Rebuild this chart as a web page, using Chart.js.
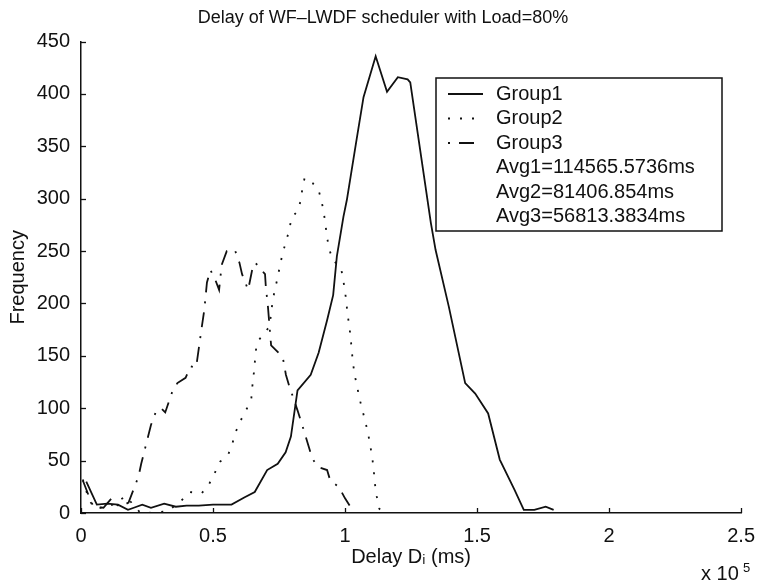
<!DOCTYPE html>
<html>
<head>
<meta charset="utf-8">
<script src="https://cdn.jsdelivr.net/npm/chart.js@4"></script>
<style>
  body { margin: 0; background: #fff; }
  canvas { display: block; }
</style>
</head>
<body>
<canvas id="chart" width="766" height="582"></canvas>
<script>
// delay in ms, frequency counts
const delay1 = [2000, 6000, 10000, 14000, 17800, 20000, 23200, 26500, 31500, 35900,
  40000, 44600, 50000, 57000, 62000, 65800, 70500, 74500, 77500, 79500,
  82000, 87000, 90000, 93200, 95500, 96900, 99400, 100700, 104400, 107000,
  111600, 115900, 120000, 123700, 124700, 132500, 134300, 139300, 145500, 149300,
  154200, 158600, 164200, 167700, 171700, 176000, 179000];
const freq1 = [30, 8, 9, 8, 3, 5, 8, 5, 9, 6,
  7, 7, 8, 8, 15, 20, 41, 47, 58, 73,
  117, 132, 153, 184, 208, 245, 283, 299, 357, 397,
  436, 402, 416, 414, 411, 277, 251, 197, 124, 114,
  95, 51, 22, 3, 3, 6, 3];

const delay2 = [700, 1600, 3200, 5000, 8500, 12000, 17000, 22200, 27000, 33000,
  38100, 41200, 45800, 48600, 50600, 52700, 55800, 57400, 58700, 60400,
  62700, 64500, 64900, 65400, 65800, 66200, 67000, 71400, 72600, 73500,
  74500, 75400, 76400, 77600, 78900, 79700, 82000, 83200, 83800, 84700,
  87700, 90000, 91100, 92000, 92600, 93200, 94000, 95400, 98400, 99200,
  100000, 101000, 101700, 102200, 103000, 103800, 104700, 105600, 106700, 107800,
  108800, 109700, 110400, 110900, 111300, 112000, 113000, 115000];
const freq2 = [32, 24, 12, 5, 5, 8, 16, 1, 0, 2,
  12, 20, 19, 28, 38, 49, 56, 67, 78, 88,
  99, 109, 121, 132, 143, 155, 164, 178, 203, 214,
  225, 237, 248, 259, 270, 282, 288, 298, 309, 320,
  315, 308, 298, 286, 275, 263, 252, 241, 235, 224,
  212, 189, 177, 165, 143, 130, 119, 108, 97, 86,
  75, 62, 51, 40, 28, 16, 4, 0];

const delay3 = [700, 3000, 4700, 8500, 11600, 13500, 15000, 18000, 20300, 21800,
  22800, 24400, 26500, 28400, 30300, 31900, 34600, 36500, 39600, 41500,
  43600, 44600, 45600, 46700, 47700, 49000, 50800, 52300, 53300, 55200,
  58300, 60000, 61000, 63300, 64900, 66000, 69700, 70000, 70800, 71400,
  72000, 76400, 77600, 78900, 82000, 84500, 87600, 89700, 93200, 94400,
  97600, 100000, 102500, 104000];
const freq3 = [31, 16, 6, 5, 14, 8, 6, 10, 25, 35,
  47, 63, 84, 97, 100, 96, 116, 124, 129, 140,
  139, 157, 175, 194, 220, 232, 223, 213, 237, 250,
  251, 239, 228, 213, 233, 239, 228, 216, 197, 178,
  160, 149, 132, 121, 98, 78, 52, 44, 41, 31,
  25, 14, 4, 1];

const seriesNames = ["Group1", "Group2", "Group3"];
const avgLabels = ["Avg1=114565.5736ms", "Avg2=81406.854ms", "Avg3=56813.3834ms"];
const xTickValues = [0, 50000, 100000, 150000, 200000, 250000];
const xTickLabels = ["0", "0.5", "1", "1.5", "2", "2.5"];
const yTickValues = [0, 50, 100, 150, 200, 250, 300, 350, 400, 450];

const FONT = "'Liberation Sans', Arial, Helvetica, sans-serif";
const INK = "#111";

function points(xs, ys) {
  return xs.map((x, i) => ({ x: x, y: ys[i] }));
}

const dashes = [[], [2, 10], [15, 9, 2, 9]];
const legendDashOffset = [0, 0, 24];

// MATLAB style inward ticks, legend box and the x10^5 exponent
const decorations = {
  id: "decorations",
  afterDraw(chart) {
    const ctx = chart.ctx;
    const xs = chart.scales.x, ys = chart.scales.y;
    const area = chart.chartArea;
    ctx.save();
    ctx.strokeStyle = INK;
    ctx.lineWidth = 1.3;
    xTickValues.forEach(v => {
      const px = Math.round(xs.getPixelForValue(v)) + 0.5;
      ctx.beginPath();
      ctx.moveTo(px, area.bottom);
      ctx.lineTo(px, area.bottom - 5);
      ctx.stroke();
    });
    yTickValues.forEach(v => {
      const py = Math.round(ys.getPixelForValue(v)) + 0.5;
      ctx.beginPath();
      ctx.moveTo(area.left, py);
      ctx.lineTo(area.left + 5, py);
      ctx.stroke();
    });

    // legend
    const bx = 436, by = 78, bw = 286, bh = 153;
    ctx.fillStyle = "#fff";
    ctx.fillRect(bx, by, bw, bh);
    ctx.lineWidth = 1.5;
    ctx.strokeRect(bx, by, bw, bh);
    ctx.font = "20px " + FONT;
    ctx.fillStyle = INK;
    ctx.textBaseline = "middle";
    ctx.textAlign = "left";
    const rows = seriesNames.concat(avgLabels);
    rows.forEach((txt, i) => {
      const y = 94 + i * 24.5;
      if (i < 3) {
        ctx.save();
        ctx.setLineDash(dashes[i]);
        ctx.lineDashOffset = legendDashOffset[i];
        ctx.lineWidth = 1.8;
        ctx.beginPath();
        ctx.moveTo(448, y);
        ctx.lineTo(483, y);
        ctx.stroke();
        ctx.restore();
      }
      ctx.fillText(txt, 496, y);
    });

    // exponent
    ctx.textBaseline = "alphabetic";
    ctx.font = "20px " + FONT;
    ctx.fillText("x 10", 701, 580);
    ctx.font = "13px " + FONT;
    ctx.fillText("5", 743, 572);
    ctx.restore();
  }
};

const ctx = document.getElementById("chart").getContext("2d");
const chart = new Chart(ctx, {
  type: "line",
  data: {
    datasets: [
      { label: seriesNames[0], data: points(delay1, freq1), borderWidth: 1.8, borderDash: dashes[0] },
      { label: seriesNames[1], data: points(delay2, freq2), borderWidth: 1.8, borderDash: dashes[1] },
      { label: seriesNames[2], data: points(delay3, freq3), borderWidth: 1.8, borderDash: dashes[2] }
    ].map(d => Object.assign(d, { borderColor: INK, pointRadius: 0, tension: 0, fill: false }))
  },
  options: {
    responsive: false,
    devicePixelRatio: 1,
    animation: false,
    layout: { padding: 0 },
    plugins: {
      legend: { display: false },
      tooltip: { enabled: false },
      title: {
        display: true,
        text: "Delay of WF\u2013LWDF scheduler with Load=80%",
        color: INK,
        font: { family: FONT, size: 18, weight: "normal" },
        padding: { top: 7, bottom: 13 }
      }
    },
    scales: {
      x: {
        type: "linear",
        min: 0,
        max: 250000,
        afterFit: s => { s.height = 69; },
        afterBuildTicks: s => { s.ticks = xTickValues.map(v => ({ value: v })); },
        ticks: {
          color: INK,
          font: { family: FONT, size: 20 },
          padding: 11,
          maxRotation: 0,
          autoSkip: false,
          callback: (v) => xTickLabels[xTickValues.indexOf(v)]
        },
        grid: { display: true, drawOnChartArea: false, drawTicks: false },
        border: { display: true, color: INK, width: 1.5 },
        title: {
          display: true,
          text: "Delay D\u1D62 (ms)",
          color: INK,
          font: { family: FONT, size: 20 },
          padding: { top: 0, bottom: 13 }
        }
      },
      y: {
        min: 0,
        max: 450,
        afterFit: s => { s.width = 81; },
        afterBuildTicks: s => { s.ticks = yTickValues.map(v => ({ value: v })); },
        ticks: {
          color: INK,
          font: { family: FONT, size: 20 },
          padding: 11
        },
        grid: { display: true, drawOnChartArea: false, drawTicks: false },
        border: { display: true, color: INK, width: 1.5 },
        title: {
          display: true,
          text: "Frequency",
          color: INK,
          font: { family: FONT, size: 20 },
          padding: { top: 6, bottom: 0 }
        }
      },
      // spacer on the right so the plot ends where the reference does
      y2: {
        position: "right",
        display: true,
        afterFit: s => { s.width = 17; },
        ticks: { display: false },
        grid: { display: false },
        border: { display: false }
      }
    }
  },
  plugins: [decorations]
});
</script>
</body>
</html>
